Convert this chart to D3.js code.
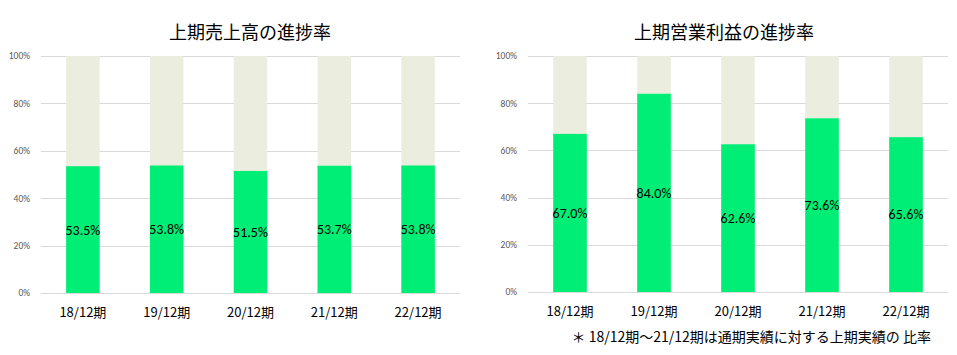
<!DOCTYPE html>
<html><head><meta charset="utf-8">
<script src="https://cdn.jsdelivr.net/npm/d3@7"></script>
<style>
body{margin:0;background:#fff;}
svg{display:block;}
</style></head>
<body>
<svg id="c" width="957" height="355"></svg>
<script>
const categories = ["18/12期","19/12期","20/12期","21/12期","22/12期"];
const salesRate = [53.5, 53.8, 51.5, 53.7, 53.8];
const profitRate = [67.0, 84.0, 62.6, 73.6, 65.6];
const yTicks = [0, 20, 40, 60, 80, 100];
const titles = ["上期売上高の進捗率", "上期営業利益の進捗率"];
const footnote = "＊ 18/12期～21/12期は通期実績に対する上期実績の 比率";

const svg = d3.select("#c");
const FONT = "'Noto Sans CJK JP', 'Noto Sans', sans-serif";
const NUMFONT = "Carlito, 'Liberation Sans', 'Noto Sans', sans-serif";

function drawChart(cfg){
  const g = svg.append("g");
  const y = d3.scaleLinear().domain([0,100]).range([cfg.y0, cfg.y1]);
  const x = d3.scaleBand().domain(categories).range([cfg.x0, cfg.x1]).paddingInner(0.6).paddingOuter(0.3);

  g.selectAll("line.grid").data(yTicks).join("line")
    .attr("x1", cfg.x0).attr("x2", cfg.x1)
    .attr("y1", d=>Math.round(y(d))+0.5).attr("y2", d=>Math.round(y(d))+0.5)
    .attr("stroke", "#d9d9d9").attr("stroke-width", 1);

  g.selectAll("text.yt").data(yTicks).join("text")
    .attr("x", cfg.x0 - 11).attr("y", d=>y(d)).attr("dy","0.35em")
    .attr("text-anchor","end").attr("font-family", NUMFONT).attr("font-size", 9.5)
    .attr("fill","#595959").text(d=>d+"%");

  g.selectAll("rect.bg").data(categories).join("rect")
    .attr("x", d=>x(d)).attr("width", x.bandwidth())
    .attr("y", y(100)).attr("height", y(0)-y(100))
    .attr("fill", "#ebeedf");

  g.selectAll("rect.v").data(cfg.values).join("rect")
    .attr("x", (d,i)=>x(categories[i])).attr("width", x.bandwidth())
    .attr("y", d=>y(d)).attr("height", d=>y(0)-y(d))
    .attr("fill", "#00ee76");

  g.selectAll("text.v").data(cfg.values).join("text")
    .attr("x", (d,i)=>x(categories[i]) + x.bandwidth()/2)
    .attr("y", d=>(y(d)+y(0))/2).attr("dy","0.35em")
    .attr("text-anchor","middle").attr("font-family", NUMFONT).attr("font-size", 14)
    .attr("fill","#000").text(d=>d.toFixed(1)+"%");

  g.selectAll("text.xl").data(categories).join("text")
    .attr("x", d=>x(d)+x.bandwidth()/2).attr("y", cfg.y0 + 19).attr("dy","0.35em")
    .attr("text-anchor","middle").attr("font-family", FONT).attr("font-size", 13)
    .attr("fill","#000").text(d=>d);

  g.append("text").attr("x", cfg.tx).attr("y", 33).attr("dy","0.35em")
    .attr("text-anchor","middle").attr("font-family", FONT).attr("font-size", 18)
    .attr("fill","#000").text(cfg.title);
}

drawChart({x0:41, x1:460, y0:293, y1:56, values:salesRate, title:titles[0], tx:250});
drawChart({x0:528, x1:948, y0:292, y1:56, values:profitRate, title:titles[1], tx:724});

svg.append("text").attr("x", 931).attr("y", 337).attr("dy","0.35em")
  .attr("text-anchor","end").attr("font-family", FONT).attr("font-size", 14)
  .attr("fill","#000").text(footnote);
</script>
</body></html>
